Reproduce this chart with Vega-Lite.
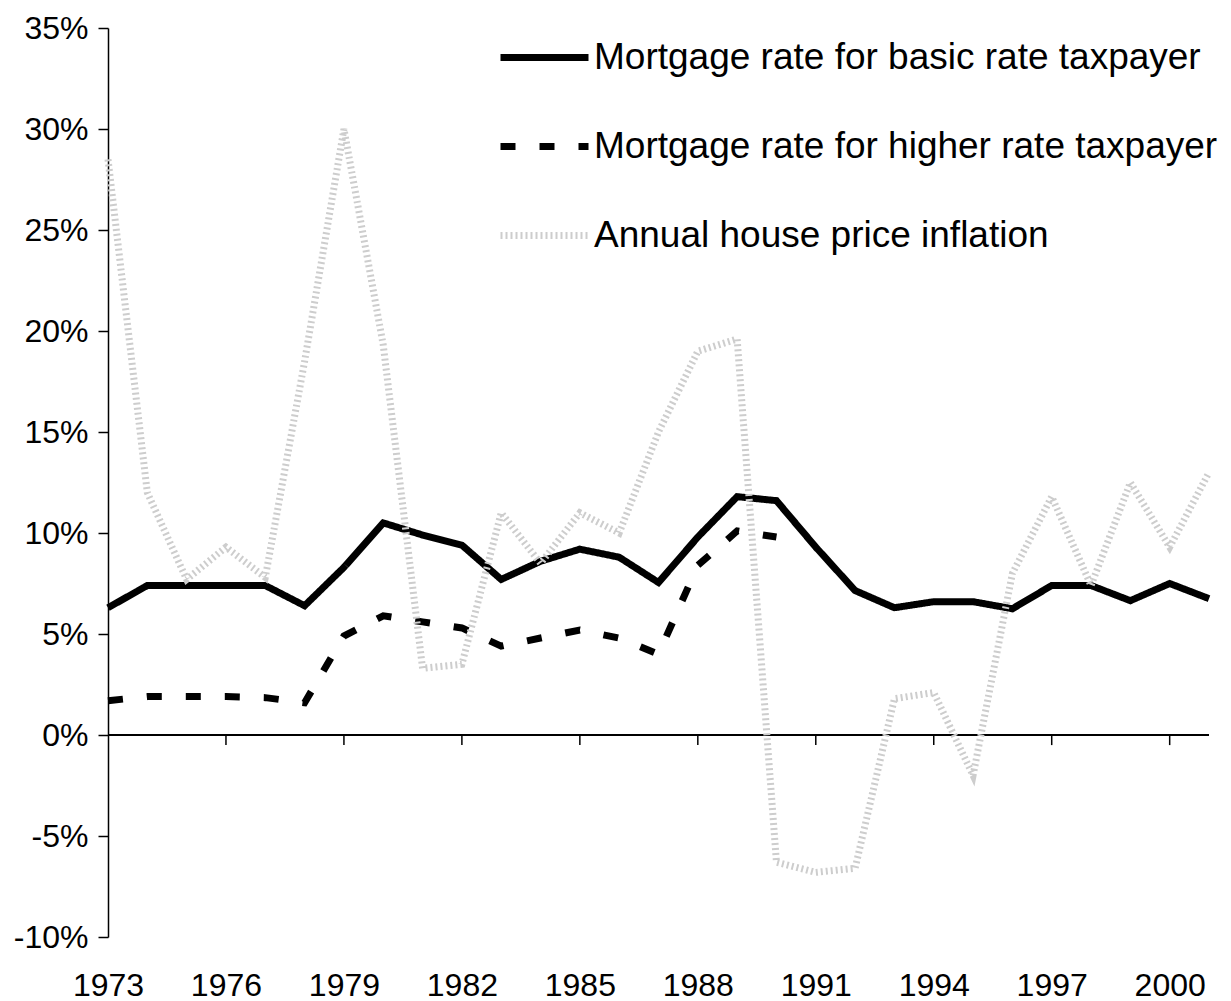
{
  "$schema": "https://vega.github.io/schema/vega-lite/v6.json",
  "width": 1101,
  "height": 909,
  "autosize": {"type": "none"},
  "padding": {"left": 108, "top": 28, "right": 22, "bottom": 64},
  "background": "white",
  "config": {"view": {"stroke": null}, "font": "Liberation Sans"},
  "datasets": {
    "series": [
      {"year": 1973, "series": "Mortgage rate for basic rate taxpayer", "value": 6.3},
      {"year": 1974, "series": "Mortgage rate for basic rate taxpayer", "value": 7.4},
      {"year": 1975, "series": "Mortgage rate for basic rate taxpayer", "value": 7.4},
      {"year": 1976, "series": "Mortgage rate for basic rate taxpayer", "value": 7.4},
      {"year": 1977, "series": "Mortgage rate for basic rate taxpayer", "value": 7.4},
      {"year": 1978, "series": "Mortgage rate for basic rate taxpayer", "value": 6.4},
      {"year": 1979, "series": "Mortgage rate for basic rate taxpayer", "value": 8.3},
      {"year": 1980, "series": "Mortgage rate for basic rate taxpayer", "value": 10.5},
      {"year": 1981, "series": "Mortgage rate for basic rate taxpayer", "value": 9.9},
      {"year": 1982, "series": "Mortgage rate for basic rate taxpayer", "value": 9.4},
      {"year": 1983, "series": "Mortgage rate for basic rate taxpayer", "value": 7.7},
      {"year": 1984, "series": "Mortgage rate for basic rate taxpayer", "value": 8.6},
      {"year": 1985, "series": "Mortgage rate for basic rate taxpayer", "value": 9.2},
      {"year": 1986, "series": "Mortgage rate for basic rate taxpayer", "value": 8.8},
      {"year": 1987, "series": "Mortgage rate for basic rate taxpayer", "value": 7.55},
      {"year": 1988, "series": "Mortgage rate for basic rate taxpayer", "value": 9.8},
      {"year": 1989, "series": "Mortgage rate for basic rate taxpayer", "value": 11.8},
      {"year": 1990, "series": "Mortgage rate for basic rate taxpayer", "value": 11.6},
      {"year": 1991, "series": "Mortgage rate for basic rate taxpayer", "value": 9.3},
      {"year": 1992, "series": "Mortgage rate for basic rate taxpayer", "value": 7.15},
      {"year": 1993, "series": "Mortgage rate for basic rate taxpayer", "value": 6.3},
      {"year": 1994, "series": "Mortgage rate for basic rate taxpayer", "value": 6.6},
      {"year": 1995, "series": "Mortgage rate for basic rate taxpayer", "value": 6.6},
      {"year": 1996, "series": "Mortgage rate for basic rate taxpayer", "value": 6.25},
      {"year": 1997, "series": "Mortgage rate for basic rate taxpayer", "value": 7.4},
      {"year": 1998, "series": "Mortgage rate for basic rate taxpayer", "value": 7.4},
      {"year": 1999, "series": "Mortgage rate for basic rate taxpayer", "value": 6.65},
      {"year": 2000, "series": "Mortgage rate for basic rate taxpayer", "value": 7.5},
      {"year": 2001, "series": "Mortgage rate for basic rate taxpayer", "value": 6.75},
      {"year": 1973, "series": "Mortgage rate for higher rate taxpayer", "value": 1.7},
      {"year": 1974, "series": "Mortgage rate for higher rate taxpayer", "value": 1.9},
      {"year": 1975, "series": "Mortgage rate for higher rate taxpayer", "value": 1.9},
      {"year": 1976, "series": "Mortgage rate for higher rate taxpayer", "value": 1.9},
      {"year": 1977, "series": "Mortgage rate for higher rate taxpayer", "value": 1.85},
      {"year": 1978, "series": "Mortgage rate for higher rate taxpayer", "value": 1.6},
      {"year": 1979, "series": "Mortgage rate for higher rate taxpayer", "value": 4.9},
      {"year": 1980, "series": "Mortgage rate for higher rate taxpayer", "value": 5.9},
      {"year": 1981, "series": "Mortgage rate for higher rate taxpayer", "value": 5.6},
      {"year": 1982, "series": "Mortgage rate for higher rate taxpayer", "value": 5.3},
      {"year": 1983, "series": "Mortgage rate for higher rate taxpayer", "value": 4.4},
      {"year": 1984, "series": "Mortgage rate for higher rate taxpayer", "value": 4.8},
      {"year": 1985, "series": "Mortgage rate for higher rate taxpayer", "value": 5.2},
      {"year": 1986, "series": "Mortgage rate for higher rate taxpayer", "value": 4.8},
      {"year": 1987, "series": "Mortgage rate for higher rate taxpayer", "value": 4.0},
      {"year": 1988, "series": "Mortgage rate for higher rate taxpayer", "value": 8.4},
      {"year": 1989, "series": "Mortgage rate for higher rate taxpayer", "value": 10.1},
      {"year": 1990, "series": "Mortgage rate for higher rate taxpayer", "value": 9.8},
      {"year": 1973, "series": "Annual house price inflation", "value": 28.5},
      {"year": 1974, "series": "Annual house price inflation", "value": 12},
      {"year": 1975, "series": "Annual house price inflation", "value": 7.7},
      {"year": 1976, "series": "Annual house price inflation", "value": 9.3},
      {"year": 1977, "series": "Annual house price inflation", "value": 7.8},
      {"year": 1978, "series": "Annual house price inflation", "value": 18.5},
      {"year": 1979, "series": "Annual house price inflation", "value": 30},
      {"year": 1980, "series": "Annual house price inflation", "value": 19.3},
      {"year": 1981, "series": "Annual house price inflation", "value": 3.3},
      {"year": 1982, "series": "Annual house price inflation", "value": 3.5},
      {"year": 1983, "series": "Annual house price inflation", "value": 11},
      {"year": 1984, "series": "Annual house price inflation", "value": 8.5},
      {"year": 1985, "series": "Annual house price inflation", "value": 11},
      {"year": 1986, "series": "Annual house price inflation", "value": 10},
      {"year": 1987, "series": "Annual house price inflation", "value": 15},
      {"year": 1988, "series": "Annual house price inflation", "value": 19},
      {"year": 1989, "series": "Annual house price inflation", "value": 19.6},
      {"year": 1990, "series": "Annual house price inflation", "value": -6.3},
      {"year": 1991, "series": "Annual house price inflation", "value": -6.8},
      {"year": 1992, "series": "Annual house price inflation", "value": -6.6},
      {"year": 1993, "series": "Annual house price inflation", "value": 1.8},
      {"year": 1994, "series": "Annual house price inflation", "value": 2.1},
      {"year": 1995, "series": "Annual house price inflation", "value": -2},
      {"year": 1996, "series": "Annual house price inflation", "value": 8},
      {"year": 1997, "series": "Annual house price inflation", "value": 11.8},
      {"year": 1998, "series": "Annual house price inflation", "value": 7.4},
      {"year": 1999, "series": "Annual house price inflation", "value": 12.5},
      {"year": 2000, "series": "Annual house price inflation", "value": 9.3},
      {"year": 2001, "series": "Annual house price inflation", "value": 13}
    ],
    "ticks": [
      {"year": 1976}, {"year": 1979}, {"year": 1982}, {"year": 1985}, {"year": 1988},
      {"year": 1991}, {"year": 1994}, {"year": 1997}, {"year": 2000}
    ]
  },
  "layer": [
    {
      "data": {"name": "ticks"},
      "mark": {"type": "rule", "color": "black", "strokeWidth": 1.5},
      "encoding": {
        "x": {"field": "year", "type": "quantitative", "scale": {"domain": [1973, 2001], "nice": false, "zero": false},
          "axis": {"title": null, "values": [1973, 1976, 1979, 1982, 1985, 1988, 1991, 1994, 1997, 2000], "format": "d", "domain": false, "ticks": false, "tickSize": 0, "grid": false, "labelFontSize": 32, "labelColor": "black", "labelPadding": 33, "labelFlush": false}},
        "y": {"datum": 0, "type": "quantitative", "scale": {"domain": [-10, 35], "nice": false, "zero": false},
          "axis": {"title": null, "values": [-10, -5, 0, 5, 10, 15, 20, 25, 30, 35], "labelExpr": "datum.value + '%'", "grid": false, "domainColor": "black", "domainWidth": 1.5, "tickColor": "black", "tickWidth": 1.5, "tickSize": 10, "labelFontSize": 32, "labelColor": "black", "labelPadding": 10}},
        "y2": {"datum": -0.5}
      }
    },
    {
      "data": {"name": "ticks"},
      "mark": {"type": "rule", "color": "black", "strokeWidth": 1.5},
      "encoding": {
        "y": {"datum": 0, "type": "quantitative"}
      }
    },
    {
      "data": {"name": "series"},
      "encoding": {
        "x": {"field": "year", "type": "quantitative"},
        "y": {"field": "value", "type": "quantitative"},
        "color": {"field": "series", "type": "nominal",
          "scale": {"domain": ["Mortgage rate for basic rate taxpayer", "Mortgage rate for higher rate taxpayer", "Annual house price inflation"], "range": ["black", "black", "#cdcdcd"]},
          "legend": {"title": null, "orient": "none", "legendX": 389, "legendY": -18, "symbolType": "stroke", "symbolSize": 7744, "labelFontSize": 37, "labelColor": "black", "labelOffset": 2, "rowPadding": 23, "labelLimit": 1000}},
        "strokeDash": {"field": "series", "type": "nominal",
          "scale": {"domain": ["Mortgage rate for basic rate taxpayer", "Mortgage rate for higher rate taxpayer", "Annual house price inflation"], "range": [[1, 0], [15, 24], [2, 3]]},
          "legend": {"title": null, "orient": "none", "legendX": 389, "legendY": -18, "symbolType": "stroke", "symbolSize": 7744, "labelFontSize": 37, "labelColor": "black", "labelOffset": 2, "rowPadding": 23, "labelLimit": 1000}},
        "strokeWidth": {"field": "series", "type": "nominal",
          "scale": {"domain": ["Mortgage rate for basic rate taxpayer", "Mortgage rate for higher rate taxpayer", "Annual house price inflation"], "range": [7, 7, 3]},
          "legend": {"title": null, "orient": "none", "legendX": 389, "legendY": -18, "symbolType": "stroke", "symbolSize": 7744, "labelFontSize": 37, "labelColor": "black", "labelOffset": 2, "rowPadding": 23, "labelLimit": 1000}}
      },
      "layer": [
        {"transform": [{"filter": "datum.series == 'Mortgage rate for basic rate taxpayer'"}], "mark": {"type": "line"}},
        {"transform": [{"filter": "datum.series == 'Mortgage rate for higher rate taxpayer'"}], "mark": {"type": "line"}},
        {"transform": [{"filter": "datum.series == 'Annual house price inflation'"}], "mark": {"type": "line"}}
      ]
    }
  ]
}
